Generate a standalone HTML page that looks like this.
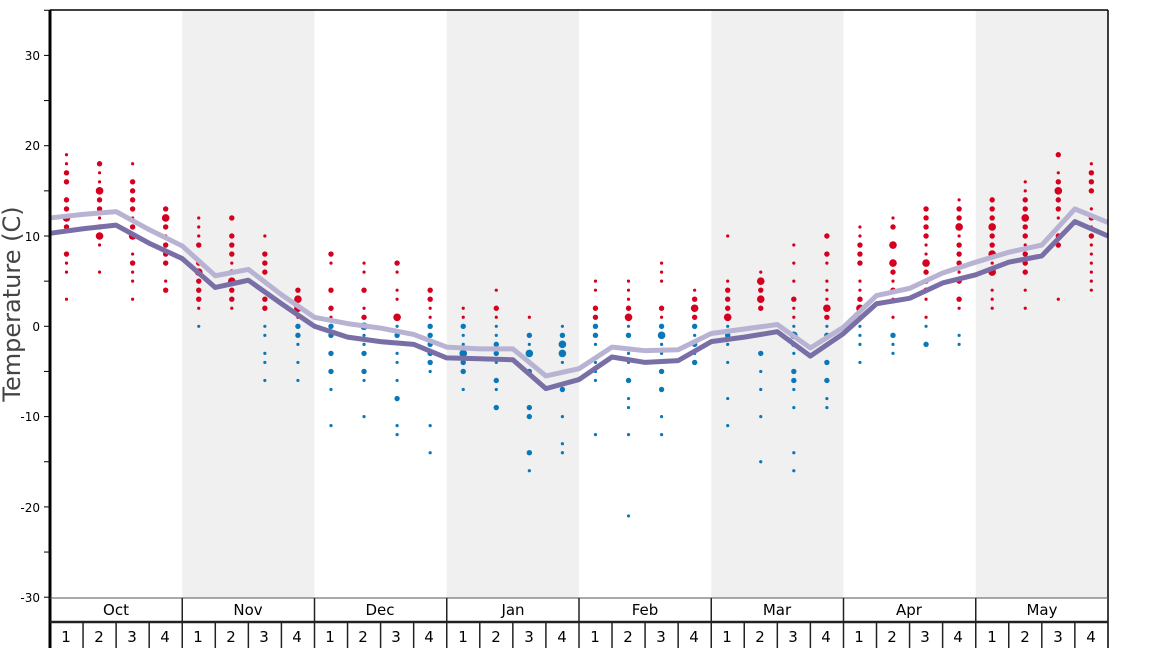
<!DOCTYPE html>
<html><head><meta charset="utf-8"><style>
html,body{margin:0;padding:0;background:#fff}
svg{display:block;font-family:"DejaVu Sans","Liberation Sans",sans-serif}
</style></head><body>
<svg id="s" width="1168" height="648" viewBox="0 0 1168 648" xmlns="http://www.w3.org/2000/svg">
<rect x="182.25" y="10" width="132.25" height="588" fill="#f0f0f0"/>
<rect x="446.75" y="10" width="132.25" height="588" fill="#f0f0f0"/>
<rect x="711.25" y="10" width="132.25" height="588" fill="#f0f0f0"/>
<rect x="975.75" y="10" width="132.25" height="588" fill="#f0f0f0"/>
<g id="dots"></g>
<g id="lines"></g>
<line x1="50" y1="10" x2="1108" y2="10" stroke="#000" stroke-width="1.5"/>
<line x1="1108" y1="10" x2="1108" y2="648" stroke="#000" stroke-width="1.5"/>
<line x1="50" y1="10" x2="50" y2="648" stroke="#000" stroke-width="3"/>
<g id="ticks" stroke="#000" stroke-width="1"></g>
<g font-size="12" text-anchor="end" fill="#000">
<text x="40" y="60">30</text><text x="40" y="150">20</text><text x="40" y="241">10</text>
<text x="40" y="331">0</text><text x="40" y="421">-10</text><text x="40" y="512">-20</text><text x="40" y="602">-30</text>
</g>
<text transform="translate(20,304) rotate(-90)" font-size="24" fill="#444" text-anchor="middle">Temperature (C)</text>
<line x1="50" y1="598" x2="1108" y2="598" stroke="#555" stroke-width="1"/>
<line x1="50" y1="622" x2="1108" y2="622" stroke="#222" stroke-width="2.5"/>
<g id="hdr" font-size="15" text-anchor="middle" fill="#000">
<text x="116" y="615">Oct</text><text x="248" y="615">Nov</text><text x="380" y="615">Dec</text><text x="513" y="615">Jan</text>
<text x="645" y="615">Feb</text><text x="777" y="615">Mar</text><text x="909" y="615">Apr</text><text x="1042" y="615">May</text>
<text x="66" y="642">1</text><text x="99" y="642">2</text><text x="132" y="642">3</text><text x="165" y="642">4</text>
<text x="198" y="642">1</text><text x="231" y="642">2</text><text x="264" y="642">3</text><text x="297" y="642">4</text>
<text x="330" y="642">1</text><text x="363" y="642">2</text><text x="396" y="642">3</text><text x="429" y="642">4</text>
<text x="463" y="642">1</text><text x="496" y="642">2</text><text x="529" y="642">3</text><text x="562" y="642">4</text>
<text x="595" y="642">1</text><text x="628" y="642">2</text><text x="661" y="642">3</text><text x="694" y="642">4</text>
<text x="727" y="642">1</text><text x="760" y="642">2</text><text x="793" y="642">3</text><text x="826" y="642">4</text>
<text x="859" y="642">1</text><text x="892" y="642">2</text><text x="925" y="642">3</text><text x="958" y="642">4</text>
<text x="992" y="642">1</text><text x="1025" y="642">2</text><text x="1058" y="642">3</text><text x="1091" y="642">4</text>
</g>
<g id="seps"></g>
</svg>
<script>
var NS="http://www.w3.org/2000/svg";
function el(p,t,a){var e=document.createElementNS(NS,t);for(var k in a)e.setAttribute(k,a[k]);p.appendChild(e);return e;}
function Y(v){return 326.3-v*9.03;}
var tk=document.getElementById('ticks');
for(var v=-30;v<=35;v+=5){el(tk,'line',{x1:44,x2:50,y1:Y(v),y2:Y(v)});}
var sp=document.getElementById('seps');
for(var m=1;m<8;m++){var x=50+m*132.25;el(sp,'line',{x1:x,x2:x,y1:598,y2:648,stroke:'#222','stroke-width':1.5});}
for(var w=1;w<32;w++){if(w%4==0)continue;var x=50+w*33.06;el(sp,'line',{x1:x,x2:x,y1:622,y2:648,stroke:'#222','stroke-width':1.5});}
var D=[
"19s18s17m16m14m13m12l11m8m7s6s3s",
"18m17s16s15l14m13m12s11m10l9s6s",
"18s16m15m14m13m12s11m10l8s7m6s5s3s",
"13m12l11m10s9m8m7m5s4m",
"12s11s10s9m7m6l5m4m3m2s0s",
"12m10m9m8m7s6m5l4m3m2s",
"10s8m7m6m5s3m2m0s-1s-3s-4s-6s",
"4m3l2l1s0m-1m-2s-4s-6s",
"8m7s4m2m1s0m-1m-3m-5m-7s-11s",
"7s6s4m2s1m0l-1s-2s-3m-5m-6s-10s",
"7m6s4s3s1l0s-1m-3s-4s-6s-8m-11s-12s",
"4m3m2s1s0m-1m-2m-3m-4m-5s-11s-14s",
"2s1s0m-1s-2s-3l-4m-5m-7s",
"4s2m1s0s-1s-2m-3m-4s-6m-7s-9m",
"1s-1m-2s-3l-4s-5m-9m-10m-14m-16s",
"0s-1m-2l-3l-4s-5s-7m-10s-13s-14s",
"5s4s2m1m0m-1m-2s-4s-5s-6s-12s",
"5s4s3s2m1l0s-1m-3s-4s-6m-8s-9s-12s-21s",
"7s6s5s2m1s0m-1l-2s-3s-5m-7m-10s-12s",
"4s3m2l1m0m-1s-2m-3s-4m",
"10s5s4m3m2m1l0s-1m-2s-4s-8s-11s",
"6s5l4m3l2m0s-3m-5s-7s-10s-15s",
"9s7s5s3m2s1s0s-1l-2m-3s-5m-6m-7s-9s-14s-16s",
"10m8m7s5s4s3s2l1m0s-1m-2s-4m-6m-8s-9s",
"11s10s9m8m7m5s4s3m2l1s0s-1s-2s-4s",
"12s11m9l7l6m5s4m3s1s-1m-2s-3s",
"13m12m11m10m9s8s7l6m5m4m3s1s0s-2m",
"14s13m12m11l10s9m8m7m6s5m3m2s-1s-2s",
"14m13m12m11l10m9m8l7s6l4s3s2s",
"16s15s14m13m12l11m10m9s8m7m6m4s2s",
"19m17s16m15l14m13m12s11s10m9m3s",
"18s17m16m15m13s12m11s10m9s8s7s6s5s4s"];
var R={s:1.6,m:2.7,l:3.8};
var g=document.getElementById('dots');
D.forEach(function(s,i){var x=66.5+i*33.06;var re=/(-?\d+)([sml])/g,m;
while((m=re.exec(s))){var v=+m[1];el(g,'circle',{cx:x,cy:Y(v),r:R[m[2]],fill:v>0?'#d4001f':'#0a78b8'});}});
var dk=[10.3,10.8,11.2,9.2,7.5,4.3,5.1,2.5,0,-1.2,-1.7,-2.0,-3.5,-3.6,-3.7,-6.9,-5.9,-3.4,-4.0,-3.8,-1.7,-1.2,-0.6,-3.3,-0.8,2.5,3.1,4.8,5.7,7.1,7.8,11.6,10.0];
var lt=[12.0,12.4,12.7,10.7,8.9,5.6,6.3,3.5,1.0,0.3,-0.2,-0.9,-2.3,-2.5,-2.5,-5.5,-4.7,-2.3,-2.7,-2.6,-0.8,-0.3,0.2,-2.4,-0.1,3.4,4.2,5.9,7.1,8.2,9.0,13.0,11.5];
var L=document.getElementById('lines');
function pts(a){return a.map(function(v,i){return (50+i*33.06)+','+Y(v);}).join(' ');}
el(L,'polyline',{points:pts(lt),fill:'none',stroke:'#b9b3d3','stroke-width':5,'stroke-linejoin':'round'});
el(L,'polyline',{points:pts(dk),fill:'none',stroke:'#7a6ea6','stroke-width':5,'stroke-linejoin':'round'});
</script>
</body></html>
